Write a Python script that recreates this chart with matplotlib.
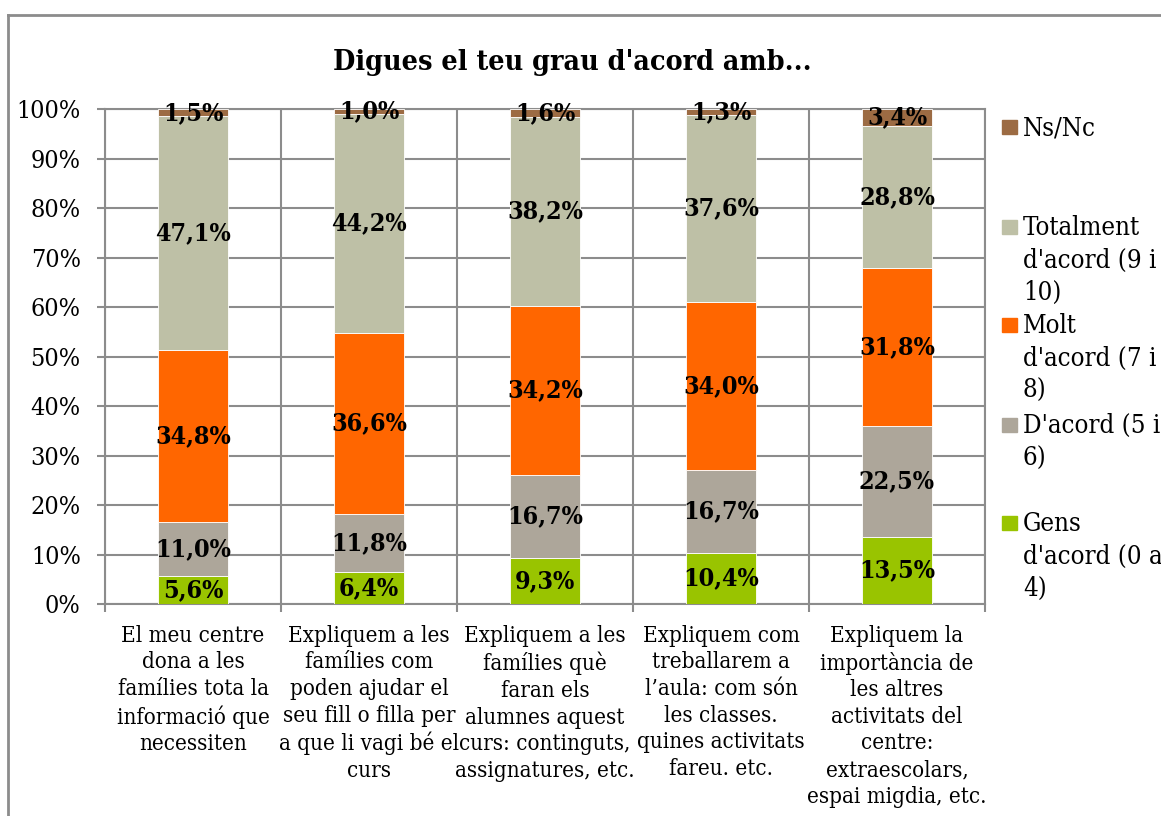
import matplotlib.pyplot as plt
from matplotlib.lines import Line2D
from matplotlib.patches import Rectangle
import numpy as np

categories = [
    "El meu centre\ndona a les\nfamílies tota la\ninformació que\nnecessiten",
    "Expliquem a les\nfamílies com\npoden ajudar el\nseu fill o filla per\na que li vagi bé el\ncurs",
    "Expliquem a les\nfamílies què\nfaran els\nalumnes aquest\ncurs: continguts,\nassignatures, etc.",
    "Expliquem com\ntreballarem a\nl’aula: com són\nles classes.\nquines activitats\nfareu. etc.",
    "Expliquem la\nimportància de\nles altres\nactivitats del\ncentre:\nextraescolars,\nespai migdia, etc.",
]

gens = [5.6, 6.4, 9.3, 10.4, 13.5]
dacord = [11.0, 11.8, 16.7, 16.7, 22.5]
molt = [34.8, 36.6, 34.2, 34.0, 31.8]
totalment = [47.1, 44.2, 38.2, 37.6, 28.8]
nsnc = [1.5, 1.0, 1.6, 1.3, 3.4]

series = [gens, dacord, molt, totalment, nsnc]
noms = ["Gens\nd'acord (0 a\n4)", "D'acord (5 i\n6)", "Molt\nd'acord (7 i\n8)",
        "Totalment\nd'acord (9 i\n10)", "Ns/Nc"]
colors = ["#99C400", "#ADA69A", "#FF6600", "#BEC0A6", "#9C6B43"]

plt.rcParams['font.family'] = ['DejaVu Serif']
plt.rcParams['font.stretch'] = 'condensed'

fig = plt.figure(figsize=(11.61, 8.16), dpi=100)
ax = fig.add_axes([105 / 1161, 1 - 604 / 816, 880 / 1161, 495 / 816])

x = np.arange(len(categories))
bottom = np.zeros(len(categories))
for vals, col in zip(series, colors):
    vals = np.array(vals)
    ax.bar(x, vals, 0.4, bottom=bottom, color=col, edgecolor="white", linewidth=0.6, zorder=3)
    for xi, b, v in zip(x, bottom, vals):
        ax.text(xi, b + v / 2, f"{v:.1f}%".replace(".", ","), ha="center", va="center",
                fontsize=18, fontweight="bold", zorder=4)
    bottom += vals

ax.set_xlim(-0.5, len(categories) - 0.5)
ax.set_ylim(0, 100)
ax.set_yticks(range(0, 101, 10))
ax.set_yticklabels([f"{v}%" for v in range(0, 101, 10)], fontsize=18)
ax.set_xticks(x)
ax.set_xticklabels(categories, fontsize=16, linespacing=1.27, va="top")
ax.set_xticks(np.arange(-0.5, len(categories)), minor=True)
ax.tick_params(axis="x", which="major", length=0, pad=15)
ax.tick_params(axis="x", which="minor", length=5.5, color="#8C8C8C", width=1.5)
ax.tick_params(axis="y", length=5.5, color="#8C8C8C", width=1.5, pad=12)
ax.grid(axis="y", color="#8C8C8C", linewidth=1.5, zorder=0)
ax.grid(axis="x", which="minor", color="#8C8C8C", linewidth=1.5, zorder=0)
for s in ax.spines.values():
    s.set_color("#8C8C8C")
    s.set_linewidth(1.5)

fig.text(572 / 1161, 1 - 62 / 816, "Digues el teu grau d'acord amb...", ha="center", va="center",
         fontsize=20.5, fontweight="bold")

# legend drawn by slot, Excel style
slot_y = [127, 227, 325, 425, 523]
for yc, nom, col in zip(slot_y, noms[::-1], colors[::-1]):
    fig.add_artist(Rectangle((1002 / 1161, 1 - (yc + 7) / 816), 15 / 1161, 14 / 816,
                             color=col, transform=fig.transFigure))
    fig.text(1023 / 1161, 1 - (yc - 12) / 816, nom, ha="left", va="top", fontsize=18.5, linespacing=1.38)

# outer chart border
fig.add_artist(Line2D([8 / 1161, 8 / 1161], [0, 1 - 15 / 816], color="#8C8C8C", linewidth=2))
fig.add_artist(Line2D([8 / 1161, 1], [1 - 15 / 816, 1 - 15 / 816], color="#8C8C8C", linewidth=2))

fig.savefig("out.png", dpi=100)
plt.close(fig)
